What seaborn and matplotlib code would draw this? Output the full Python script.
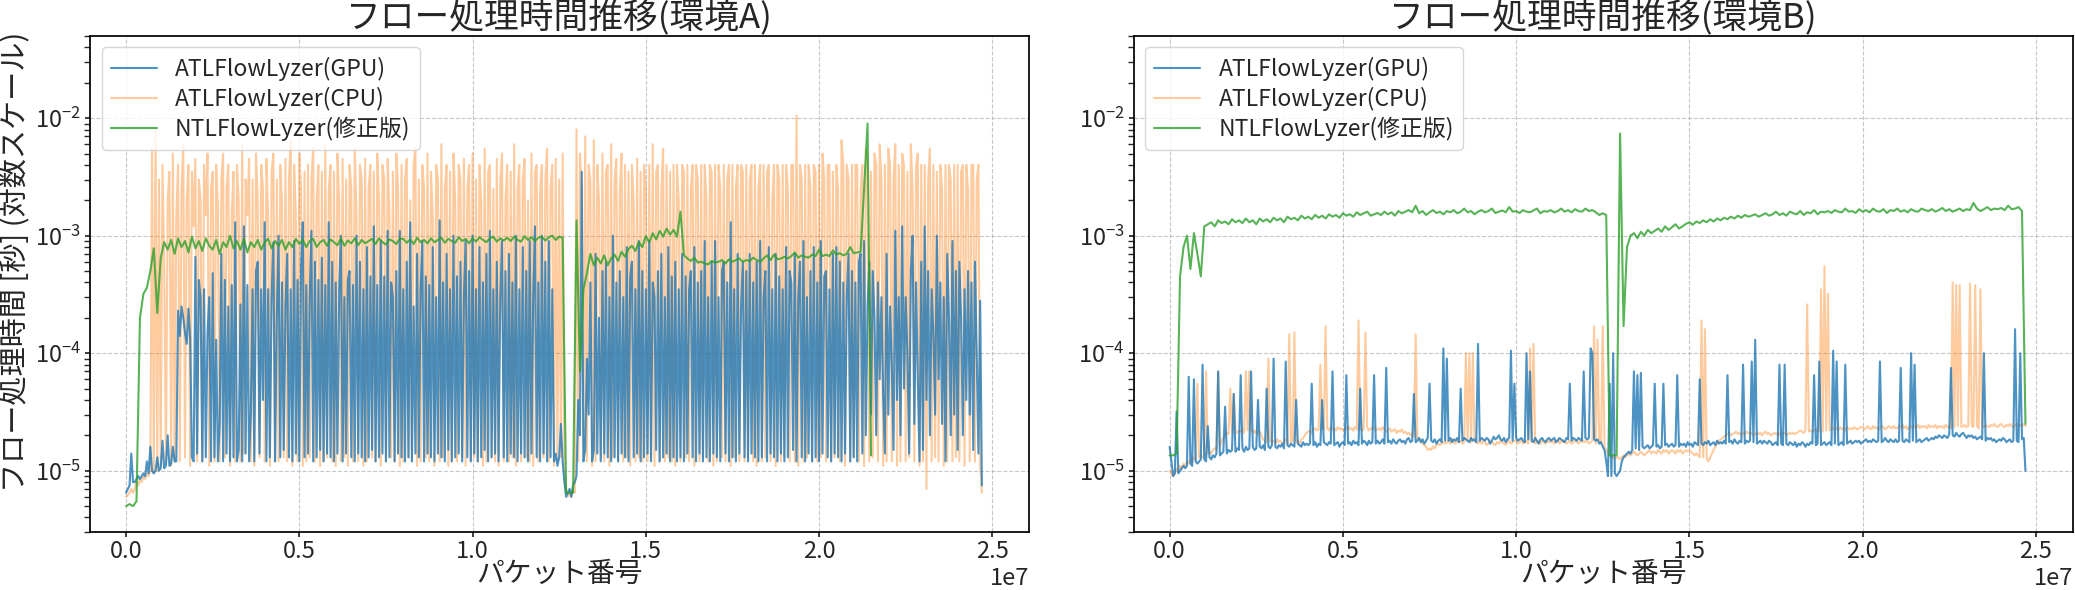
import numpy as np
import matplotlib
matplotlib.use("Agg")
import matplotlib.pyplot as plt
import seaborn as sns

# sample spacing along the packet axis
step = 1e5        # smoother series
step_fine = 5e4   # spiky series

# ----------------------------
# Environment A (microseconds per flow)
# ----------------------------
gpu_a = [
    6.5, 7, 7.5, 14, 8, 8, 8.5, 9, 8.5, 9, 9.5, 9, 12, 9.5, 16, 10, 9.5, 10, 13, 10,
    10.5, 18, 10.5, 11, 20, 11, 11.5, 16, 12, 12, 230, 140, 250, 200, 150, 120, 240, 130, 13, 12,
    660, 14, 420, 300, 12, 350, 13, 150, 300, 12, 480, 13, 130, 12, 25, 700, 12, 420, 14, 250,
    12, 380, 13, 1300, 12, 15, 260, 12, 1200, 14, 380, 12, 30, 350, 12, 500, 600, 14, 350, 40,
    1300, 12, 350, 13, 300, 880, 12, 200, 1000, 13, 400, 15, 250, 700, 13, 350, 12, 900, 14, 420,
    12, 560, 1300, 13, 380, 14, 300, 1100, 12, 600, 13, 420, 15, 650, 12, 380, 14, 1300, 13, 600,
    12, 400, 14, 350, 1000, 12, 300, 14, 420, 500, 13, 380, 12, 1000, 14, 600, 13, 350, 12, 800,
    13, 450, 15, 1200, 12, 380, 13, 900, 14, 450, 12, 1100, 13, 400, 300, 12, 500, 14, 1100, 13,
    350, 12, 600, 13, 1300, 12, 250, 14, 700, 13, 350, 900, 12, 450, 14, 380, 13, 800, 12, 300,
    14, 1350, 13, 400, 12, 700, 15, 350, 12, 1000, 13, 450, 14, 600, 12, 300, 900, 13, 500, 12,
    1000, 14, 350, 12, 800, 13, 400, 15, 700, 12, 1100, 13, 350, 14, 600, 12, 300, 900, 13, 500,
    12, 700, 14, 400, 13, 1000, 12, 350, 14, 800, 13, 500, 12, 900, 14, 300, 1200, 13, 400, 12,
    1000, 14, 600, 12, 900, 13, 350, 12, 14, 11, 13, 25, 12, 8, 6, 6.5, 7, 6, 7.5, 8,
    9, 40, 20, 3500, 12, 15, 90, 30, 400, 12, 15, 700, 14, 200, 12, 500, 14, 600, 13, 300,
    12, 1000, 13, 400, 12, 500, 14, 300, 13, 800, 12, 450, 600, 13, 350, 14, 900, 12, 500, 13,
    350, 14, 900, 12, 400, 300, 15, 500, 12, 700, 13, 300, 14, 800, 12, 450, 13, 600, 12, 350,
    13, 700, 12, 450, 14, 350, 500, 13, 800, 12, 400, 14, 500, 12, 900, 13, 300, 12, 600, 14,
    900, 13, 300, 12, 500, 600, 14, 400, 12, 1300, 13, 350, 12, 700, 14, 250, 600, 13, 500, 12,
    700, 14, 400, 13, 600, 12, 900, 13, 300, 500, 12, 800, 14, 350, 13, 700, 12, 450, 14, 350,
    12, 800, 13, 500, 400, 15, 700, 12, 300, 600, 13, 900, 12, 300, 14, 500, 12, 800, 13, 400,
    12, 900, 14, 450, 500, 13, 350, 12, 700, 14, 800, 13, 600, 12, 400, 14, 300, 700, 12, 500,
    13, 400, 12, 600, 700, 14, 900, 20, 250, 600, 30, 500, 200, 20, 400, 60, 300, 45, 14, 700,
    30, 250, 80, 15, 1100, 40, 300, 20, 1200, 50, 300, 100, 14, 500, 1000, 25, 400, 60, 12, 600,
    15, 1200, 40, 500, 20, 350, 150, 30, 1000, 60, 400, 25, 300, 12, 700, 200, 20, 900, 30, 500,
    15, 600, 200, 20, 350, 40, 500, 30, 400, 15, 600, 100, 14, 280, 7.5,
]

cpu_a = [
    6, 6.2, 6.5, 7, 6.5, 7, 8, 7.5, 8.5, 8, 9, 8.5, 9.5, 9, 10, 5500, 9.5, 8000, 10, 3000,
    11, 4000, 600, 12, 2000, 3500, 11, 5000, 12, 1500, 4000, 12, 2500, 6000, 13, 2000, 4000, 11, 3500, 1200,
    4500, 12, 3000, 2000, 12, 4000, 1500, 5000, 11, 2500, 3500, 12, 4000, 1800, 12, 3000, 5000, 13, 2500, 4000,
    11, 1500, 3500, 12, 4000, 2000, 12, 6000, 14, 3000, 1500, 4500, 12, 3000, 11, 5000, 2000, 13, 4000, 2500,
    12, 4500, 1500, 11, 3500, 5000, 12, 3000, 12, 4000, 2000, 13, 4500, 12, 3000, 6500, 11, 4000, 1500, 12,
    5000, 2500, 11, 3500, 12, 4000, 13, 3000, 5500, 12, 2000, 4000, 11, 3500, 12, 6000, 13, 2500, 4000, 12,
    3500, 11, 5000, 2000, 12, 4500, 13, 3000, 11, 4000, 2500, 12, 5500, 1500, 12, 4000, 3000, 11, 4500, 12,
    2500, 4000, 13, 3500, 12, 5000, 2000, 11, 4000, 3000, 12, 4500, 1500, 13, 3500, 12, 5000, 2500, 11, 4000,
    12, 3000, 4500, 13, 2000, 12, 4000, 5500, 11, 3000, 12, 4000, 2500, 13, 5000, 12, 3500, 1500, 11, 4000,
    3000, 12, 6000, 13, 2500, 4000, 11, 3500, 12, 5000, 2000, 12, 4000, 3000, 13, 4500, 11, 2500, 4000, 12,
    5000, 13, 3000, 12, 4000, 2000, 11, 5500, 12, 3500, 4000, 13, 2500, 12, 4500, 11, 3000, 5000, 12, 2000,
    4000, 12, 3500, 13, 6000, 11, 2500, 4000, 12, 3000, 4500, 13, 2000, 12, 5000, 11, 3500, 4000, 12, 2500,
    4000, 13, 3000, 5500, 12, 2500, 4000, 11, 4500, 12, 3000, 13, 5000, 10, 7, 6, 6.5, 6, 7, 6.5,
    8000, 12, 5000, 2500, 13, 7000, 12, 4000, 3000, 11, 6500, 12, 4000, 2000, 13, 5000, 12, 3500, 4000, 11,
    6000, 13, 3000, 4500, 12, 2500, 5000, 12, 4000, 13, 3500, 11, 4000, 2000, 12, 4500, 13, 3500, 12, 4000,
    2500, 12, 4000, 13, 6000, 11, 3500, 4000, 12, 2500, 5500, 12, 4000, 13, 3500, 12, 4000, 11, 4000, 2000,
    12, 4000, 3500, 13, 4000, 12, 2500, 4000, 11, 4000, 3000, 12, 4000, 13, 4000, 2000, 12, 4000, 3500, 11,
    4000, 12, 4000, 2500, 13, 4000, 12, 3000, 4000, 11, 4000, 13, 2500, 4000, 12, 4000, 3500, 12, 4000, 13,
    3000, 4000, 12, 4000, 11, 2500, 4000, 12, 4000, 13, 3500, 4000, 12, 2000, 4000, 11, 4000, 3000, 12, 4000,
    13, 4000, 2500, 12, 4000, 4000, 12, 10500, 11, 4000, 3000, 12, 4000, 13, 4000, 2500, 12, 4000, 3500, 12,
    4000, 13, 5000, 3000, 12, 4000, 4000, 12, 3500, 13, 4000, 2500, 12, 6500, 4000, 11, 4000, 3000, 12, 4000,
    13, 4000, 4000, 12, 2500, 4000, 11, 5500, 4000, 12, 3500, 13, 5000, 4000, 12, 6000, 3000, 11, 4000, 12,
    5500, 4000, 12, 3000, 6000, 11, 4000, 12, 5000, 4000, 12, 3500, 13, 6000, 2500, 12, 4000, 5000, 11, 4000,
    12, 4000, 7, 3000, 5500, 12, 4000, 13, 3500, 12, 4000, 2500, 11, 4000, 12, 4000, 3000, 12, 4000, 13,
    4000, 12, 3500, 4000, 11, 4000, 2500, 12, 4000, 4000, 12, 3000, 4000, 11, 6.5,
]

ntl_a = [
    5, 5.2, 5, 5.5, 200, 320, 360, 500, 780, 220,
    650, 880, 760, 920, 700, 950, 800, 900, 720, 980,
    780, 900, 740, 950, 820, 760, 920, 700, 880, 800,
    1000, 780, 900, 760, 940, 720, 880, 800, 920, 760,
    880, 940, 780, 900, 820, 920, 760, 880, 800, 940,
    850, 920, 800, 900, 940, 800, 880, 920, 820, 930,
    880, 830, 940, 820, 910, 860, 950, 830, 920, 860,
    900, 940, 850, 950, 880, 840, 930, 900, 850, 940,
    940, 870, 930, 850, 960, 880, 920, 860, 950, 880,
    920, 960, 870, 940, 900, 870, 970, 900, 940, 860,
    950, 890, 970, 920, 880, 950, 980, 890, 950, 910,
    960, 900, 980, 920, 890, 990, 920, 970, 900, 960,
    980, 910, 970, 1000, 920, 980, 960, 6.5, 6.5, 6.5,
    1350, 70, 350, 480, 700, 560, 650, 580, 680, 560,
    640, 690, 610, 730, 660, 770, 820, 740, 880, 800,
    990, 880, 1050, 930, 1100, 980, 1150, 1020, 1120, 980,
    1600, 680, 640, 610, 650, 590, 600, 580, 570, 610,
    590, 600, 620, 580, 630, 600, 620, 640, 600, 620,
    610, 650, 620, 600, 640, 680, 620, 690, 630, 640,
    660, 640, 670, 720, 650, 680, 660, 650, 690, 670,
    760, 670, 690, 670, 750, 690, 710, 680, 700, 800,
    710, 720, 730, 2500, 9000, 13.5,
]

# ----------------------------
# Environment B (microseconds per flow)
# ----------------------------
gpu_b = [
    16, 12, 9, 9.5, 32, 9.5, 10, 10.5, 11, 10.5, 11, 63, 11.5, 11, 60, 12, 11.5, 12, 12.5, 80,
    12.5, 12, 24, 13, 12.5, 13.5, 13, 14, 70, 13.5, 14, 14.5, 35, 14, 15, 14.5, 15, 45, 14.5, 15.5,
    15, 65, 15.5, 14.5, 16, 15, 15.5, 70, 16, 15, 15.5, 40, 16, 15.5, 16.5, 15, 50, 16, 15.5, 16.5,
    90, 16, 15.5, 16.5, 16, 17, 15.5, 85, 16.5, 16, 17, 16.5, 16, 40, 17, 16.5, 16, 17.5, 16.5, 17,
    16.5, 17, 55, 16.5, 17.5, 16, 17, 16.5, 40, 17.5, 17, 16.5, 17.5, 17, 70, 16.5, 17, 17.5, 16, 17,
    17.5, 16.5, 65, 17, 17.5, 16.5, 18, 17, 17.5, 16.5, 50, 17, 18, 17.5, 16.5, 18, 17, 17.5, 65, 17,
    18, 17, 17.5, 18.5, 17, 75, 17.5, 18, 17, 18.5, 17.5, 17, 18, 18.5, 17.5, 18, 17, 18.5, 19, 17.5,
    18, 45, 17.5, 18, 19, 17.5, 18.5, 17, 18, 19, 55, 18, 17.5, 18.5, 17, 18, 18.5, 17.5, 110, 18,
    90, 18, 19, 17.5, 18.5, 18, 19, 17.5, 50, 18, 19, 18.5, 18, 17.5, 19, 18, 18.5, 17.5, 120, 18,
    19, 18.5, 18, 19, 18.5, 17, 18, 19.5, 18.5, 19, 20, 18.5, 18, 19, 17.5, 18.5, 19, 105, 18, 55,
    19, 18, 18.5, 19, 18, 17.5, 100, 18.5, 70, 18, 17.5, 19, 18, 17, 18.5, 19, 18, 17.5, 18.5, 19,
    18, 18.5, 19, 17.5, 18, 19, 18.5, 18, 17.5, 19, 18.5, 55, 18, 19, 18.5, 18, 19, 18.5, 18, 70,
    19, 18.5, 19, 110, 100, 18.5, 18, 18.5, 17, 17.5, 16, 15, 12, 9, 55, 9, 100, 9.5, 9, 9.5,
    10, 12, 13, 13.5, 14, 14.5, 14, 15, 70, 15.5, 65, 15, 68, 16, 15.5, 16, 16.5, 15.5, 16, 16.5,
    55, 16, 16.5, 15.5, 16, 55, 16.5, 17, 16, 16.5, 17, 16, 16.5, 65, 16, 17, 16.5, 17, 16, 17.5,
    16.5, 17, 16, 17.5, 17, 16.5, 60, 17, 16.5, 17.5, 17, 18, 16.5, 17, 17.5, 16.5, 18, 17, 17.5, 17,
    18, 17, 65, 17.5, 18, 17, 18.5, 17.5, 17, 18, 17.5, 80, 17, 18, 17.5, 18, 85, 17.5, 130, 17,
    17.5, 18, 17, 18, 17.5, 17, 18, 17.5, 16.5, 17, 17.5, 16.5, 80, 17, 16.5, 80, 17, 16.5, 17.5, 17,
    16.5, 17.5, 16, 17, 16.5, 17.5, 17, 16, 17, 16.5, 17.5, 17, 65, 16.5, 17, 85, 16.5, 17, 17.5, 16.5,
    17, 17.5, 16.5, 105, 17, 85, 16.5, 17, 17.5, 16.5, 80, 17, 17.5, 18, 17, 17.5, 18, 17.5, 18, 17,
    17.5, 18, 18.5, 17.5, 18, 17.5, 18.5, 18, 17.5, 18, 85, 17.5, 18, 19, 18, 17.5, 18.5, 18, 17.5, 18.5,
    17.5, 18, 75, 18, 17.5, 18.5, 18, 17.5, 100, 18, 80, 17.5, 18, 18.5, 17.5, 18, 18.5, 19, 18, 18.5,
    19, 18.5, 19.5, 19, 20, 19.5, 19, 20, 19.5, 19, 20.5, 75, 20, 19.5, 21, 20, 19.5, 20.5, 21, 20,
    19, 20, 19.5, 20, 19, 19.5, 18.5, 19, 19.5, 18.5, 100, 18, 19, 18.5, 19, 18, 18.5, 17.5, 18, 18.5,
    18, 19, 18.5, 17.5, 18, 18.5, 17.5, 18, 160, 18, 17.5, 100, 18.5, 19, 10,
]

cpu_b = [
    10, 9.5, 9, 9.5, 10.5, 10, 11, 10.5, 11.5, 11, 12, 11.5, 12.5, 12, 13, 12.5, 55, 13, 13.5, 13,
    13.5, 70, 14, 14.5, 14, 15, 15.5, 15, 70, 16, 18, 19, 20, 21, 20.5, 50, 21, 45, 21.5, 21,
    22, 21.5, 22.5, 21, 70, 22, 70, 21.5, 22.5, 21, 22, 20.5, 21.5, 20, 18.5, 18, 17.5, 90, 18, 17.5,
    18, 17, 18.5, 17.5, 18, 17, 17.5, 18.5, 17, 145, 17.5, 18, 150, 17.5, 18, 17, 18.5, 19, 20, 21,
    21.5, 22, 21, 22.5, 23, 22, 22.5, 80, 23, 22.5, 170, 23, 22, 23.5, 22.5, 23, 22, 23.5, 22.5, 23,
    22, 23, 22.5, 24, 22.5, 23, 22, 23.5, 22.5, 190, 23, 22, 22.5, 150, 23.5, 22, 23, 22.5, 23.5, 22,
    22.5, 23, 22, 23.5, 22.5, 21.5, 22, 23, 21.5, 22, 22.5, 21, 22, 21.5, 22.5, 21, 21.5, 20.5, 21, 20,
    20.5, 19.5, 145, 19, 18.5, 18, 17, 16.5, 16, 15, 15.5, 15, 16, 15.5, 16.5, 17, 16.5, 17, 17.5, 17,
    17.5, 18, 17, 18.5, 17.5, 17, 18, 17.5, 18, 17, 17.5, 100, 18, 100, 17.5, 100, 18, 17.5, 17, 18,
    17, 18, 17.5, 16.5, 17, 18, 17.5, 17, 16.5, 17.5, 17, 18, 17.5, 17, 16.5, 17.5, 18, 17, 17.5, 18,
    18, 17, 17.5, 18, 17, 17.5, 18, 17, 110, 17.5, 120, 17, 17.5, 18, 17, 18, 17.5, 17, 18, 17.5,
    17.5, 18, 17, 17.5, 18.5, 17, 18, 17.5, 18, 17, 17.5, 18, 17, 17.5, 18, 17.5, 17, 18, 17.5, 18,
    17.5, 18, 17, 17.5, 18, 170, 17, 130, 17.5, 17, 170, 16, 15, 14, 13.5, 13, 13, 12.5, 13, 13,
    12.5, 13, 13.5, 13, 13.5, 14, 13.5, 14, 14.5, 14, 13.5, 14, 14.5, 14, 13.5, 14, 14.5, 15, 14, 14.5,
    14.5, 14, 15, 14.5, 14, 15, 14.5, 15, 14, 14.5, 15, 14.5, 14, 15, 14.5, 15, 14, 14.5, 15, 14.5,
    15, 14.5, 14, 13.5, 14, 13.5, 13, 190, 13, 160, 12.5, 12, 13, 14, 15, 16, 17, 18, 18.5, 19,
    19.5, 20, 20.5, 21, 20, 20.5, 21, 21.5, 20.5, 21, 20, 21, 20.5, 21.5, 21, 20.5, 21, 20, 20.5, 21,
    20.5, 21, 20, 21, 21.5, 20.5, 21, 20, 20.5, 21, 20.5, 21, 20, 21.5, 20.5, 21, 20, 20.5, 21, 20.5,
    21, 20.5, 21, 21.5, 22, 21.5, 21, 22, 260, 21.5, 22, 21.5, 22, 22.5, 21.5, 22, 350, 21.5, 550, 22,
    320, 22, 22.5, 23, 22.5, 23, 22, 23.5, 22.5, 23, 22, 23.5, 22.5, 23, 22.5, 23.5, 23, 22.5, 23, 23.5,
    23.5, 22.5, 23, 24, 23, 22.5, 24, 23, 23.5, 22.5, 23, 24, 23.5, 22.5, 23, 24, 23.5, 23, 24, 23,
    23, 24, 23.5, 24.5, 23, 24, 22.5, 23.5, 24, 23, 24, 23.5, 24.5, 23, 24, 23.5, 24, 23, 24.5, 23.5,
    24, 23.5, 24.5, 23, 24, 23.5, 24, 23, 24.5, 23.5, 24, 23, 400, 23.5, 380, 24, 380, 23.5, 24, 24.5,
    23.5, 24, 390, 24, 23.5, 380, 24, 23, 350, 24, 23.5, 24.5, 24, 23.5, 24.5, 24, 25, 24, 23.5, 24.5,
    25, 24, 23.5, 24.5, 24, 25, 24, 23.5, 24.5, 25, 24, 24.5, 24, 25, 24,
]

ntl_b = [
    13.5, 13.5, 14, 450, 800, 1000, 520, 1050, 700, 450,
    1200, 1250, 1300, 1200, 1350, 1280, 1320, 1250, 1380, 1300,
    1350, 1280, 1400, 1300, 1350, 1250, 1400, 1320, 1380, 1300,
    1420, 1350, 1400, 1300, 1450, 1380, 1420, 1350, 1480, 1400,
    1450, 1380, 1500, 1420, 1480, 1400, 1520, 1450, 1500, 1420,
    1550, 1480, 1520, 1450, 1580, 1500, 1550, 1600, 1480, 1520,
    1560, 1500, 1600, 1520, 1580, 1480, 1620, 1550, 1600, 1650,
    1580, 1800, 1550, 1620, 1500, 1580, 1650, 1560, 1600, 1520,
    1620, 1580, 1650, 1550, 1600, 1700, 1580, 1620, 1520, 1600,
    1650, 1580, 1620, 1700, 1560, 1600, 1640, 1580, 1750, 1600,
    1620, 1560, 1650, 1600, 1580, 1640, 1700, 1550, 1620, 1600,
    1650, 1580, 1620, 1700, 1600, 1650, 1580, 1680, 1620, 1600,
    1700, 1620, 1650, 1580, 1500, 1550, 1500, 13.5, 13.5, 13.5,
    7400, 170, 800, 1000, 1050, 950, 1080, 1000, 1120, 1050,
    1100, 1150, 1080, 1200, 1120, 1180, 1250, 1150, 1200, 1260,
    1300, 1240, 1320, 1280, 1350, 1300, 1380, 1320, 1400, 1350,
    1420, 1380, 1450, 1400, 1480, 1420, 1500, 1450, 1480, 1520,
    1450, 1500, 1550, 1480, 1520, 1600, 1500, 1550, 1480, 1600,
    1550, 1520, 1620, 1500, 1580, 1550, 1650, 1520, 1600, 1580,
    1620, 1560, 1650, 1600, 1580, 1700, 1600, 1620, 1560, 1680,
    1600, 1650, 1580, 1700, 1620, 1600, 1680, 1560, 1650, 1620,
    1700, 1600, 1650, 1580, 1680, 1620, 1600, 1700, 1650, 1620,
    1680, 1600, 1650, 1720, 1620, 1680, 1600, 1650, 1700, 1620,
    1680, 1650, 1900, 1700, 1620, 1680, 1750, 1650, 1700, 1680,
    1720, 1650, 1800, 1680, 1700, 1750, 1620, 25,
]

assert len(gpu_a) == 495 and len(cpu_a) == 495 and len(ntl_a) == 216
assert len(gpu_b) == 495 and len(cpu_b) == 495 and len(ntl_b) == 248

series_names = ["ATLFlowLyzer(GPU)", "ATLFlowLyzer(CPU)", "NTLFlowLyzer(修正版)"]
series_colors = ["#1f77b4", "#ff7f0e", "#2ca02c"]
series_alpha = [0.8, 0.4, 0.8]
series_z = [3, 2, 4]

# ----------------------------
# Style
# ----------------------------
sns.set_theme(style="ticks")
plt.rcParams['font.family'] = ['Noto Sans CJK JP', 'DejaVu Sans']
plt.rcParams['mathtext.fontset'] = 'custom'
plt.rcParams['mathtext.rm'] = 'Noto Sans CJK JP'
plt.rcParams['mathtext.it'] = 'Noto Sans CJK JP'
plt.rcParams['mathtext.bf'] = 'Noto Sans CJK JP'
plt.rcParams['xtick.labelsize'] = 17
plt.rcParams['ytick.labelsize'] = 17
plt.rcParams['xtick.major.size'] = 3.5
plt.rcParams['ytick.major.size'] = 3.5
plt.rcParams['xtick.major.pad'] = 2
plt.rcParams['ytick.major.pad'] = 3
plt.rcParams['axes.edgecolor'] = 'black'

fig, axes = plt.subplots(1, 2, figsize=(20.75, 5.9), dpi=100)
fig.subplots_adjust(left=0.0434, right=0.999, bottom=0.098, top=0.939, wspace=0.111)

panels = [
    (axes[0], [gpu_a, cpu_a, ntl_a], [step_fine, step_fine, step], "フロー処理時間推移(環境A)"),
    (axes[1], [gpu_b, cpu_b, ntl_b], [step_fine, step_fine, step], "フロー処理時間推移(環境B)"),
]

for ax, data, steps, title in panels:
    for vals, dx, name, color, alpha, z in zip(data, steps, series_names,
                                               series_colors, series_alpha, series_z):
        x = np.arange(len(vals)) * dx
        y = np.array(vals) * 1e-6
        sns.lineplot(x=x, y=y, ax=ax, color=color, alpha=alpha,
                     linewidth=1.5, label=name, zorder=z)
    ax.set_yscale('log')
    ax.set_ylim(3e-6, 5e-2)
    ax.set_xlim(-1.04e6, 2.607e7)
    ax.grid(True, which='major', linestyle='--', linewidth=0.8, color='#b0b0b0', alpha=0.7)
    ax.set_title(title, fontsize=25, pad=3)
    ax.set_xlabel("パケット番号", fontsize=20, labelpad=-3)
    leg = ax.legend(loc='upper left', fontsize=16.5, labelspacing=0.25)
    leg.set_zorder(10)

axes[0].set_ylabel("フロー処理時間 [秒] (対数スケール)", fontsize=21)
axes[0].yaxis.set_label_coords(-0.062, 0.545)
axes[1].set_ylabel("")

plt.savefig("out.png", dpi=100)
